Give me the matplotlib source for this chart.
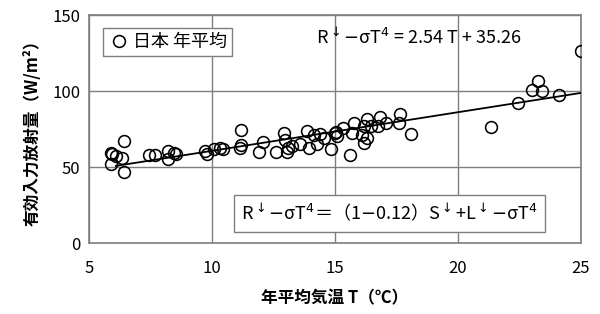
import numpy as np
import matplotlib
matplotlib.use("Agg")
import matplotlib.pyplot as plt

plt.rcParams['font.family'] = ['Noto Sans CJK JP', 'DejaVu Sans']

# Données : température moyenne annuelle (°C) et rayonnement effectif (W/m2)
temp = [5.9, 5.95, 6.1, 6.33, 6.44, 6.44, 5.92,
        7.44, 7.71, 8.2, 8.22, 8.45, 8.55,
        9.74, 9.8, 10.1, 10.33, 10.46,
        11.17, 11.15, 11.2, 11.92, 12.1, 12.6, 12.93, 12.98, 13.04, 13.1, 13.24,
        13.58, 13.87, 13.96, 14.15, 14.28, 14.39, 14.55, 14.84, 15.0, 15.05, 15.1,
        15.34, 15.6, 15.7, 15.8, 16.1, 16.2, 16.3, 16.2, 16.29, 16.49, 16.76,
        16.83, 17.07, 17.6, 17.67, 18.1,
        21.33, 22.43, 23.0, 23.24, 23.44, 24.12, 25.0]
rad = [52, 58.5, 57.5, 55.7, 67.3, 46.5, 59,
       58, 58, 60.7, 55.3, 59, 58.5,
       60.3, 58.5, 62, 62.5, 61.8,
       64.5, 62.7, 74.3, 60, 66.2, 59.6, 72.2, 67.8, 59.6, 62.3, 63.8,
       65, 73.7, 62.7, 71, 65, 72, 69.3, 61.8, 72.2, 72.8, 70.6,
       76, 57.9, 72.1, 78.7, 71, 65.6, 68.9, 77, 81.4, 77, 77,
       83, 78.7, 78.7, 84.9, 71.5,
       76.3, 91.9, 101, 106.8, 100.2, 97.4, 126.5]

pente, ordonnee = 2.54, 35.26

fig, ax = plt.subplots(figsize=(6, 3.14), dpi=100)
fig.subplots_adjust(left=0.148, right=0.968, top=0.952, bottom=0.226)

gris = '#7f7f7f'

# droite de régression
xs = np.array([6.1, max(temp)])
ax.plot(xs, pente * xs + ordonnee, color='black', linewidth=1.3, zorder=3)

ax.plot(temp, rad, linestyle='none', marker='o', markersize=8.5,
        markerfacecolor='none', markeredgecolor='black', markeredgewidth=1.15,
        label='日本 年平均', zorder=4)

ax.set_xlim(5, 25)
ax.set_ylim(0, 150)
ax.set_xticks([5, 10, 15, 20, 25])
ax.set_yticks([0, 50, 100, 150])
ax.grid(True, color=gris, linewidth=1.0)
ax.set_axisbelow(True)
for s in ax.spines.values():
    s.set_color(gris)
    s.set_linewidth(1.2)
ax.tick_params(length=0, labelsize=12, pad=6)
ax.tick_params(axis='x', pad=12)

ax.set_xlabel('年平均気温 T（℃）', fontsize=12, fontweight='bold', labelpad=9)
ax.set_ylabel('有効入力放射量（W/m²）', fontsize=12, fontweight='bold', labelpad=8)

leg = ax.legend(loc='upper left', bbox_to_anchor=(0.01, 0.985), fontsize=13,
                handletextpad=0.15, borderpad=0.3, handlelength=1.2,
                fancybox=False, framealpha=1)
leg.get_frame().set_edgecolor(gris)
leg.get_frame().set_linewidth(1.0)

ax.text(0.462, 0.9, r'R$^{\downarrow}$$-$σT$^{4}$ = 2.54 T + 35.26',
        transform=ax.transAxes, fontsize=13, va='center', ha='left')

ax.text(0.31, 0.13, r'R$^{\downarrow}$$-$σT$^{4}$＝（1$-$0.12）S$^{\downarrow}$+L$^{\downarrow}$$-$σT$^{4}$',
        transform=ax.transAxes, fontsize=13, va='center', ha='left',
        bbox=dict(boxstyle='square,pad=0.4', facecolor='white', edgecolor=gris, linewidth=1.0),
        zorder=5)

fig.savefig('out.png', dpi=100)
